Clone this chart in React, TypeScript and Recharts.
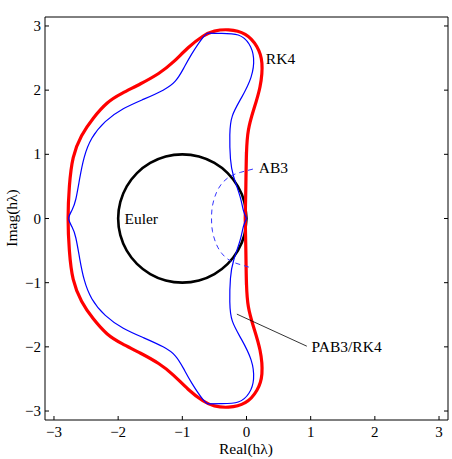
import { LineChart, Line, XAxis, YAxis, ReferenceDot, ReferenceLine } from 'recharts';

type Pt = { x: number; y: number };

const FONT = '"Liberation Serif", "Times New Roman", Times, serif';

// axis ticks
const xTicks = [-3, -2, -1, 0, 1, 2, 3];
const yTicks = [-3, -2, -1, 0, 1, 2, 3];

// Euler: |1 + z| = 1
const euler: Pt[] = [
  { x: 0, y: 0 }, { x: -0.034, y: 0.259 }, { x: -0.134, y: 0.5 }, { x: -0.293, y: 0.707 },
  { x: -0.5, y: 0.866 }, { x: -0.741, y: 0.966 }, { x: -1, y: 1 }, { x: -1.259, y: 0.966 },
  { x: -1.5, y: 0.866 }, { x: -1.707, y: 0.707 }, { x: -1.866, y: 0.5 }, { x: -1.966, y: 0.259 },
  { x: -2, y: 0 }, { x: -1.966, y: -0.259 }, { x: -1.866, y: -0.5 }, { x: -1.707, y: -0.707 },
  { x: -1.5, y: -0.866 }, { x: -1.259, y: -0.966 }, { x: -1, y: -1 }, { x: -0.741, y: -0.966 },
  { x: -0.5, y: -0.866 }, { x: -0.293, y: -0.707 }, { x: -0.134, y: -0.5 }, { x: -0.034, y: -0.259 },
  { x: 0, y: 0 },
];

// RK4 boundary (red)
const rk4: Pt[] = [
  { x: -0.02, y: 0 }, { x: -0.01, y: 0.5 }, { x: 0.0, y: 1.02 }, { x: 0.03, y: 1.38 },
  { x: 0.11, y: 1.69 }, { x: 0.21, y: 2.05 }, { x: 0.24, y: 2.42 }, { x: 0.16, y: 2.68 },
  { x: -0.02, y: 2.87 }, { x: -0.28, y: 2.94 }, { x: -0.5, y: 2.92 }, { x: -0.68, y: 2.84 },
  { x: -0.91, y: 2.66 }, { x: -1.14, y: 2.44 }, { x: -1.37, y: 2.26 }, { x: -1.65, y: 2.1 },
  { x: -1.94, y: 1.95 }, { x: -2.17, y: 1.8 }, { x: -2.39, y: 1.56 }, { x: -2.57, y: 1.29 },
  { x: -2.7, y: 0.95 }, { x: -2.76, y: 0.5 }, { x: -2.78, y: 0 },
  { x: -2.76, y: -0.5 }, { x: -2.7, y: -0.95 }, { x: -2.57, y: -1.29 }, { x: -2.39, y: -1.56 },
  { x: -2.17, y: -1.8 }, { x: -1.94, y: -1.95 }, { x: -1.65, y: -2.1 }, { x: -1.37, y: -2.26 },
  { x: -1.14, y: -2.44 }, { x: -0.91, y: -2.66 }, { x: -0.68, y: -2.84 }, { x: -0.5, y: -2.92 },
  { x: -0.28, y: -2.94 }, { x: -0.02, y: -2.87 }, { x: 0.16, y: -2.68 }, { x: 0.24, y: -2.42 },
  { x: 0.21, y: -2.05 }, { x: 0.11, y: -1.69 }, { x: 0.03, y: -1.38 }, { x: 0.0, y: -1.02 },
  { x: -0.01, y: -0.5 }, { x: -0.02, y: 0 },
];

// PAB3/RK4 boundary (blue), in three pieces split at the two corners
const pab3Upper: Pt[] = [
  { x: 0, y: 0 }, { x: -0.05, y: 0.13 }, { x: -0.1, y: 0.34 }, { x: -0.2, y: 0.65 },
  { x: -0.25, y: 0.93 }, { x: -0.26, y: 1.3 }, { x: -0.22, y: 1.6 }, { x: -0.08, y: 1.88 },
  { x: 0.07, y: 2.2 }, { x: 0.11, y: 2.5 }, { x: 0.04, y: 2.72 }, { x: -0.13, y: 2.86 },
  { x: -0.4, y: 2.885 }, { x: -0.6, y: 2.89 },
];
const pab3Left: Pt[] = [
  { x: -0.6, y: 2.89 }, { x: -0.68, y: 2.82 }, { x: -0.85, y: 2.57 }, { x: -0.98, y: 2.34 },
  { x: -1.11, y: 2.14 }, { x: -1.3, y: 2.0 }, { x: -1.6, y: 1.86 }, { x: -1.92, y: 1.71 },
  { x: -2.2, y: 1.51 }, { x: -2.41, y: 1.25 }, { x: -2.53, y: 0.95 }, { x: -2.6, y: 0.62 },
  { x: -2.66, y: 0.3 }, { x: -2.72, y: 0.13 }, { x: -2.77, y: 0 },
  { x: -2.72, y: -0.13 }, { x: -2.66, y: -0.3 }, { x: -2.6, y: -0.62 }, { x: -2.53, y: -0.95 },
  { x: -2.41, y: -1.25 }, { x: -2.2, y: -1.51 }, { x: -1.92, y: -1.71 }, { x: -1.6, y: -1.86 },
  { x: -1.3, y: -2.0 }, { x: -1.11, y: -2.14 }, { x: -0.98, y: -2.34 }, { x: -0.85, y: -2.57 },
  { x: -0.68, y: -2.82 }, { x: -0.6, y: -2.89 },
];
const pab3Lower: Pt[] = [
  { x: -0.6, y: -2.89 }, { x: -0.4, y: -2.885 }, { x: -0.13, y: -2.86 }, { x: 0.04, y: -2.72 },
  { x: 0.11, y: -2.5 }, { x: 0.07, y: -2.2 }, { x: -0.08, y: -1.88 }, { x: -0.22, y: -1.6 },
  { x: -0.26, y: -1.3 }, { x: -0.25, y: -0.93 }, { x: -0.2, y: -0.65 }, { x: -0.1, y: -0.34 },
  { x: -0.05, y: -0.13 }, { x: 0, y: 0 },
];

// short piece of the blue boundary that runs along the imaginary axis
const pab3Axis: Pt[] = [
  { x: -0.015, y: -1.04 }, { x: -0.015, y: 1.04 },
];

// AB3 boundary (dashed)
const ab3: Pt[] = [
  { x: 0.1, y: 0.77 }, { x: -0.09, y: 0.72 }, { x: -0.25, y: 0.66 }, { x: -0.38, y: 0.55 },
  { x: -0.47, y: 0.4 }, { x: -0.53, y: 0.2 }, { x: -0.545, y: 0 }, { x: -0.53, y: -0.2 },
  { x: -0.47, y: -0.4 }, { x: -0.38, y: -0.55 }, { x: -0.25, y: -0.66 }, { x: -0.09, y: -0.72 },
  { x: 0.08, y: -0.77 },
];

const fmt = (v: number) => (v < 0 ? '\u2212' + Math.abs(v) : String(v));
const txt = { fontFamily: FONT, fontSize: 15, fill: '#000' };

const BottomTick = ({ x, y, payload }: any) => (
  <g>
    <line x1={x} y1={y} x2={x} y2={y - 4} stroke="#000" />
    <text x={x} y={y + 17} textAnchor="middle" style={txt}>{fmt(payload.value)}</text>
  </g>
);
const TopTick = ({ x, y }: any) => <line x1={x} y1={y} x2={x} y2={y + 4} stroke="#000" />;
const LeftTick = ({ x, y, payload }: any) => (
  <g>
    <line x1={x} y1={y} x2={x + 4} y2={y} stroke="#000" />
    <text x={x - 4} y={y + 5} textAnchor="end" style={txt}>{fmt(payload.value)}</text>
  </g>
);
const RightTick = ({ x, y }: any) => <line x1={x} y1={y} x2={x - 4} y2={y} stroke="#000" />;

const note = (value: string) => ({ value, position: 'center' as const, fill: '#000', fontSize: 15.5, fontFamily: FONT });

const blue = (data: Pt[]) => (
  <Line data={data} dataKey="y" type="natural" stroke="#0000ff" strokeWidth={1.2}
    dot={false} activeDot={false} isAnimationActive={false} />
);

export default function App() {
  return (
    <div style={{ position: 'absolute', left: 0, top: 0, width: 452, height: 459, background: '#fff' }}>
      <LineChart width={452} height={459} margin={{ top: 16, right: 3, left: 44, bottom: 38 }}>
        <XAxis type="number" dataKey="x" domain={[-3.14, 3.14]} ticks={xTicks} interval={0}
          allowDataOverflow height={1} tickSize={0} tickMargin={0} tickLine={false}
          axisLine={{ stroke: '#000' }} tick={<BottomTick />} />
        <XAxis xAxisId="top" orientation="top" type="number" domain={[-3.14, 3.14]} ticks={xTicks}
          interval={0} allowDataOverflow height={1} tickSize={0} tickMargin={0} tickLine={false}
          axisLine={{ stroke: '#000' }} tick={<TopTick />} />
        <YAxis type="number" dataKey="y" domain={[-3.14, 3.14]} ticks={yTicks} interval={0}
          allowDataOverflow width={1} tickSize={0} tickMargin={0} tickLine={false}
          axisLine={{ stroke: '#000' }} tick={<LeftTick />} />
        <YAxis yAxisId="right" orientation="right" type="number" domain={[-3.14, 3.14]} ticks={yTicks}
          interval={0} allowDataOverflow width={1} tickSize={0} tickMargin={0} tickLine={false}
          axisLine={{ stroke: '#000' }} tick={<RightTick />} />

        <Line data={euler} dataKey="y" type="natural" stroke="#000" strokeWidth={2.6}
          dot={false} activeDot={false} isAnimationActive={false} />
        <Line data={pab3Axis} dataKey="y" type="linear" stroke="#0000ff" strokeWidth={1.2}
          dot={false} activeDot={false} isAnimationActive={false} />
        <Line data={rk4} dataKey="y" type="natural" stroke="#ff0000" strokeWidth={3.2}
          dot={false} activeDot={false} isAnimationActive={false} />
        {blue(pab3Upper)}
        {blue(pab3Left)}
        {blue(pab3Lower)}
        <Line data={ab3} dataKey="y" type="natural" stroke="#3333ff" strokeWidth={1}
          strokeDasharray="5 4" dot={false} activeDot={false} isAnimationActive={false} />

        <ReferenceLine segment={[{ x: -0.15, y: -1.49 }, { x: 0.94, y: -1.99 }]} stroke="#000" strokeWidth={0.8} />
        <ReferenceDot x={0.53} y={2.5} r={0} stroke="none" fill="none" label={note('RK4')} />
        <ReferenceDot x={0.42} y={0.79} r={0} stroke="none" fill="none" label={note('AB3')} />
        <ReferenceDot x={-1.64} y={0} r={0} stroke="none" fill="none" label={note('Euler')} />
        <ReferenceDot x={1.56} y={-2.0} r={0} stroke="none" fill="none" label={note('PAB3/RK4')} />
      </LineChart>
      <div style={{ position: 'absolute', left: 0, width: 452, top: 442, textAlign: 'center', paddingLeft: 40, boxSizing: 'border-box',
        fontFamily: FONT, fontSize: 15.5, lineHeight: '14px', color: '#000' }}>
        Real(hλ)
      </div>
      <div style={{ position: 'absolute', left: 12, top: 218, transform: 'translate(-50%, -50%) rotate(-90deg)',
        fontFamily: FONT, fontSize: 15.5, lineHeight: '18px', color: '#000', whiteSpace: 'nowrap' }}>
        Imag(hλ)
      </div>
    </div>
  );
}
